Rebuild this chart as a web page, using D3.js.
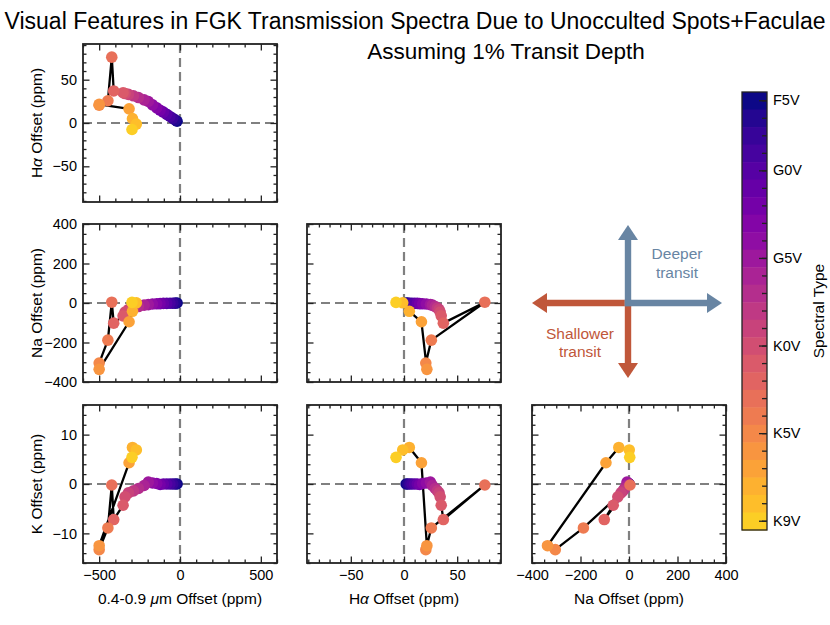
<!DOCTYPE html>
<html>
<head>
<meta charset="utf-8">
<script src="https://cdn.jsdelivr.net/npm/d3@7"></script>
<style>
  body { margin: 0; background: #fff; }
</style>
</head>
<body>
<div id="chart"></div>
<script>
const width = 830;
const height = 625;
const font = "'Liberation Sans', Arial, Helvetica, sans-serif";

// spectral sequence, F5V -> K9V (one colour band each)
const spectralTypes = ["F5V", "F6V", "F7V", "F8V", "G0V", "G1V", "G2V", "G3V", "G4V", "G5V",
  "G6V", "G7V", "G8V", "G9V", "K0V", "K1V", "K2V", "K3V", "K4V", "K5V",
  "K6V", "K7V", "K8V", "K8.5V", "K9V"];
const colorbarTicks = ["F5V", "G0V", "G5V", "K0V", "K5V", "K9V"];

// offsets in ppm, same order as spectralTypes
const bbOffset = [-18, -30, -45, -62, -82, -103, -123, -144, -170, -196,
  -222, -257, -288, -319, -340, -352, -410, -422, -446, -500,
  -500, -315, -294, -270, -297];
const haOffset = [2, 3.5, 5.5, 7.5, 10, 12.5, 14.7, 17.5, 21, 24.8,
  26.7, 29.4, 31.4, 33, 34, 35, 37, 76, 25.7, 20.5,
  21.5, 16.4, 5, -1.2, -7.5];
const naOffset = [0, -0.5, -1, -1, -2, -2, -3, -4, -5, -8,
  -11, -18, -25, -33, -46, -65, -102, 4, -188, -304,
  -336, -95, -42, 1, 3];
const kOffset = [0, 0, 0, 0, 0, 0, -0.1, 0.1, 0.2, 0.4,
  -0.3, -0.9, -1.4, -1.8, -2.6, -4.3, -7.2, -0.2, -8.9, -13.3,
  -12.5, 4.3, 7.4, 6.9, 5.4];

const color = d3.scaleSequential(d3.interpolatePlasma)
  .domain([0, (spectralTypes.length - 1) / 0.9]);

const vars = {
  bb: { values: bbOffset, domain: [-600, 600], ticks: [-500, 0, 500], minor: 100,
        label: [["0.4-0.9 ", false], ["\u03bc", true], ["m Offset (ppm)", false]] },
  ha: { values: haOffset, domain: [-91.2, 91.2], ticks: [-50, 0, 50], minor: 10,
        label: [["H", false], ["\u03b1", true], [" Offset (ppm)", false]] },
  na: { values: naOffset, domain: [-400, 400], ticks: [-400, -200, 0, 200, 400], minor: 50,
        label: [["Na Offset (ppm)", false]] },
  k:  { values: kOffset, domain: [-16, 16], ticks: [-10, 0, 10], minor: 2,
        label: [["K Offset (ppm)", false]] }
};

const panels = [
  { row: 0, col: 0, x: "bb", y: "ha" },
  { row: 1, col: 0, x: "bb", y: "na" },
  { row: 1, col: 1, x: "ha", y: "na" },
  { row: 2, col: 0, x: "bb", y: "k" },
  { row: 2, col: 1, x: "ha", y: "k" },
  { row: 2, col: 2, x: "na", y: "k" }
];

const colLeft = [83, 307, 532];
const rowTop = [44, 224, 405];
const pw = 194;
const ph = 158;

const svg = d3.select("#chart")
  .append("svg")
    .attr("width", width)
    .attr("height", height)
    .style("font-family", font);

// title
svg.append("text")
  .attr("x", 415).attr("y", 29)
  .attr("text-anchor", "middle")
  .attr("font-size", 23)
  .text("Visual Features in FGK Transmission Spectra Due to Unocculted Spots+Faculae");
svg.append("text")
  .attr("x", 506).attr("y", 59)
  .attr("text-anchor", "middle")
  .attr("font-size", 22.5)
  .text("Assuming 1% Transit Depth");

function minorTicks(v) {
  const start = Math.ceil(v.domain[0] / v.minor) * v.minor;
  return d3.range(start, v.domain[1] + 1e-9, v.minor).filter(d => !v.ticks.includes(d));
}

function addLabel(sel, parts) {
  parts.forEach(([t, it]) => {
    sel.append("tspan").attr("font-style", it ? "italic" : null).text(t);
  });
}

function styleAxis(g) {
  g.attr("font-family", null).attr("font-size", null).attr("color", "#222");
  g.select(".domain").remove();
  g.selectAll(".tick line").attr("stroke-width", 1.3);
  g.selectAll("text").attr("fill", "#000").attr("font-size", 14.5);
}

const lineData = spectralTypes.map((s, i) => i);

panels.forEach(p => {
  const vx = vars[p.x], vy = vars[p.y];
  const g = svg.append("g").attr("transform", `translate(${colLeft[p.col]},${rowTop[p.row]})`);
  const x = d3.scaleLinear().domain(vx.domain).range([0, pw]);
  const y = d3.scaleLinear().domain(vy.domain).range([ph, 0]);
  const showX = p.row === 2;
  const showY = p.col === 0;

  // zero lines
  g.append("line")
    .attr("x1", x(0)).attr("x2", x(0)).attr("y1", 0).attr("y2", ph)
    .attr("stroke", "#808080").attr("stroke-width", 2.2).attr("stroke-dasharray", "9,5");
  g.append("line")
    .attr("x1", 0).attr("x2", pw).attr("y1", y(0)).attr("y2", y(0))
    .attr("stroke", "#808080").attr("stroke-width", 2.2).attr("stroke-dasharray", "9,5");

  // track through spectral sequence
  g.append("path")
    .datum(lineData)
    .attr("fill", "none")
    .attr("stroke", "black")
    .attr("stroke-width", 2.3)
    .attr("stroke-linejoin", "round")
    .attr("d", d3.line().x(i => x(vx.values[i])).y(i => y(vy.values[i])));

  g.selectAll("circle")
    .data(lineData)
    .join("circle")
      .attr("cx", i => x(vx.values[i]))
      .attr("cy", i => y(vy.values[i]))
      .attr("r", 5.8)
      .attr("fill", i => color(i));

  // ticks, inward on all four sides
  const fmt = d3.format("");
  g.append("g").attr("transform", `translate(0,${ph})`)
    .call(d3.axisBottom(x).tickValues(vx.ticks).tickSizeInner(-6.5).tickSizeOuter(0).tickPadding(7)
      .tickFormat(showX ? fmt : () => ""))
    .call(styleAxis);
  g.append("g")
    .call(d3.axisTop(x).tickValues(vx.ticks).tickSizeInner(-6.5).tickSizeOuter(0).tickFormat(() => ""))
    .call(styleAxis);
  g.append("g")
    .call(d3.axisLeft(y).tickValues(vy.ticks).tickSizeInner(-6.5).tickSizeOuter(0).tickPadding(6)
      .tickFormat(showY ? fmt : () => ""))
    .call(styleAxis);
  g.append("g").attr("transform", `translate(${pw},0)`)
    .call(d3.axisRight(y).tickValues(vy.ticks).tickSizeInner(-6.5).tickSizeOuter(0).tickFormat(() => ""))
    .call(styleAxis);

  g.append("g").attr("transform", `translate(0,${ph})`)
    .call(d3.axisBottom(x).tickValues(minorTicks(vx)).tickSizeInner(-3.5).tickSizeOuter(0).tickFormat(() => ""))
    .call(styleAxis);
  g.append("g")
    .call(d3.axisTop(x).tickValues(minorTicks(vx)).tickSizeInner(-3.5).tickSizeOuter(0).tickFormat(() => ""))
    .call(styleAxis);
  g.append("g")
    .call(d3.axisLeft(y).tickValues(minorTicks(vy)).tickSizeInner(-3.5).tickSizeOuter(0).tickFormat(() => ""))
    .call(styleAxis);
  g.append("g").attr("transform", `translate(${pw},0)`)
    .call(d3.axisRight(y).tickValues(minorTicks(vy)).tickSizeInner(-3.5).tickSizeOuter(0).tickFormat(() => ""))
    .call(styleAxis);

  g.append("rect")
    .attr("width", pw).attr("height", ph)
    .attr("fill", "none").attr("stroke", "#222").attr("stroke-width", 1.8);

  if (showX) {
    svg.append("text")
      .attr("x", colLeft[p.col] + pw / 2).attr("y", 604)
      .attr("text-anchor", "middle")
      .attr("font-size", 15.5)
      .call(addLabel, vx.label);
  }
  if (showY) {
    svg.append("text")
      .attr("transform", `translate(42,${rowTop[p.row] + ph / 2}) rotate(-90)`)
      .attr("text-anchor", "middle")
      .attr("font-size", 15.5)
      .call(addLabel, vy.label);
  }
});

// direction key in the empty panel
const blue = "#6885a3";
const red = "#c0573a";
const kx = d3.scaleLinear().domain([-1, 1]).range([colLeft[2], colLeft[2] + pw]);
const ky = d3.scaleLinear().domain([-1, 1]).range([rowTop[1] + ph, rowTop[1]]);
const key = svg.append("g");

function arrow(x1, y1, x2, y2, c) {
  const dx = x2 - x1, dy = y2 - y1, len = Math.hypot(dx, dy);
  const ux = dx / len, uy = dy / len;
  const headL = 15, headW = 10, shaft = 3.2;
  const bx = x2 - ux * headL, by = y2 - uy * headL;
  key.append("line")
    .attr("x1", x1).attr("y1", y1).attr("x2", bx).attr("y2", by)
    .attr("stroke", c).attr("stroke-width", shaft * 2);
  key.append("polygon")
    .attr("points", [[x2, y2], [bx - uy * headW, by + ux * headW], [bx + uy * headW, by - ux * headW]].join(" "))
    .attr("fill", c);
}
const cx0 = kx(0) - 1, cy0 = ky(0);
arrow(cx0 - 3.2, cy0, kx(-1), cy0, red);
arrow(cx0, cy0 - 3.2, cx0, ky(-1) - 4, red);
arrow(cx0, cy0 + 3.2, cx0, ky(1) + 1, blue);
arrow(cx0 - 3.2, cy0, kx(1) - 4, cy0, blue);

key.append("text").attr("x", 677).attr("y", 259).attr("text-anchor", "middle")
  .attr("font-size", 15.5).attr("fill", blue).text("Deeper");
key.append("text").attr("x", 677).attr("y", 278).attr("text-anchor", "middle")
  .attr("font-size", 15.5).attr("fill", blue).text("transit");
key.append("text").attr("x", 580).attr("y", 339).attr("text-anchor", "middle")
  .attr("font-size", 15.5).attr("fill", red).text("Shallower");
key.append("text").attr("x", 580).attr("y", 357).attr("text-anchor", "middle")
  .attr("font-size", 15.5).attr("fill", red).text("transit");

// colour bar
const cbX = 742, cbW = 25;
const cb = d3.scaleBand().domain(spectralTypes).range([92, 530]).padding(0);
svg.append("g").selectAll("rect")
  .data(spectralTypes)
  .join("rect")
    .attr("x", cbX)
    .attr("y", d => cb(d))
    .attr("width", cbW)
    .attr("height", cb.bandwidth() + 0.5)
    .attr("fill", (d, i) => color(i));

svg.append("g").attr("transform", `translate(${cbX + cbW},0)`)
  .call(d3.axisRight(cb).tickSizeInner(-5).tickSizeOuter(0).tickFormat(() => ""))
  .call(styleAxis);
svg.append("g").attr("transform", `translate(${cbX + cbW},0)`)
  .call(d3.axisRight(cb).tickValues(colorbarTicks).tickSizeInner(-8).tickSizeOuter(0).tickPadding(6))
  .call(styleAxis);
svg.append("rect")
  .attr("x", cbX).attr("y", 92).attr("width", cbW).attr("height", 438)
  .attr("fill", "none").attr("stroke", "#222").attr("stroke-width", 1.3);
svg.append("text")
  .attr("transform", "translate(824,311) rotate(-90)")
  .attr("text-anchor", "middle")
  .attr("font-size", 15.5)
  .text("Spectral Type");
</script>
</body>
</html>
